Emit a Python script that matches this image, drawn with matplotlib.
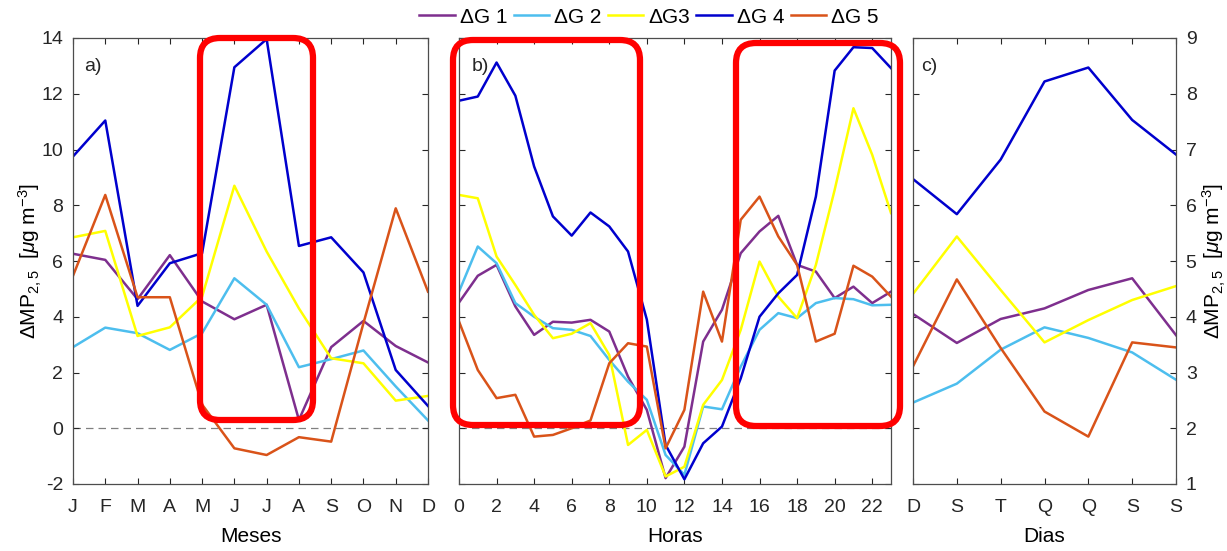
import matplotlib.pyplot as plt
from matplotlib.patches import FancyBboxPatch
from matplotlib.lines import Line2D

plt.rcParams['font.family'] = ['Liberation Sans', 'DejaVu Sans']
plt.rcParams['mathtext.fontset'] = 'custom'
plt.rcParams['mathtext.rm'] = 'Liberation Sans'
plt.rcParams['mathtext.it'] = 'Liberation Sans:italic'
plt.rcParams['axes.unicode_minus'] = False

# series names and colours
names = ["ΔG 1", "ΔG 2", "ΔG3", "ΔG 4", "ΔG 5"]
colors = ["#7E2F8E", "#4DBEEE", "#FFFF00", "#0000CD", "#D95319"]

# a) months
months = ["J", "F", "M", "A", "M", "J", "J", "A", "S", "O", "N", "D"]
mes_g1 = [6.26, 6.04, 4.63, 6.21, 4.55, 3.91, 4.43, 0.30, 2.91, 3.85, 2.95, 2.36]
mes_g2 = [2.91, 3.61, 3.41, 2.81, 3.41, 5.38, 4.43, 2.19, 2.48, 2.79, 1.50, 0.28]
mes_g3 = [6.85, 7.08, 3.31, 3.62, 4.72, 8.70, 6.34, 4.30, 2.51, 2.33, 0.99, 1.16]
mes_g4 = [9.75, 11.04, 4.39, 5.92, 6.28, 12.95, 13.96, 6.54, 6.85, 5.59, 2.09, 0.80]
mes_g5 = [5.47, 8.37, 4.70, 4.70, 0.85, -0.72, -0.96, -0.32, -0.48, 3.77, 7.89, 4.90]

# b) hours
horas = list(range(24))
hor_g1 = [4.51, 5.47, 5.86, 4.37, 3.35, 3.82, 3.79, 3.89, 3.47, 1.85, 0.66, -1.79,
          -0.66, 3.11, 4.25, 6.28, 7.06, 7.62, 5.86, 5.62, 4.67, 5.08, 4.49, 4.90]
hor_g2 = [4.90, 6.52, 5.92, 4.49, 4.00, 3.59, 3.53, 3.31, 2.45, 1.67, 1.02, -0.96,
          -1.67, 0.78, 0.68, 2.21, 3.53, 4.13, 3.95, 4.49, 4.67, 4.63, 4.41, 4.43]
hor_g3 = [8.37, 8.25, 6.16, 5.14, 4.07, 3.23, 3.39, 3.77, 2.63, -0.60, -0.06, -1.73,
          -1.38, 0.84, 1.73, 3.53, 5.98, 4.72, 3.95, 5.86, 8.55, 11.48, 9.81, 7.72]
hor_g4 = [11.75, 11.90, 13.12, 11.93, 9.39, 7.60, 6.91, 7.74, 7.24, 6.34, 3.90, -0.60,
          -1.83, -0.54, 0.06, 1.79, 4.00, 4.84, 5.50, 8.31, 12.83, 13.67, 13.64, 12.92]
hor_g5 = [3.83, 2.09, 1.08, 1.20, -0.30, -0.24, 0.00, 0.28, 2.33, 3.05, 2.93, -0.72,
          0.66, 4.90, 3.11, 7.48, 8.31, 6.88, 5.86, 3.11, 3.39, 5.83, 5.44, 4.72]

# c) week days
dias = ["D", "S", "T", "Q", "Q", "S", "S"]
dia_g1 = [4.05, 3.53, 3.96, 4.15, 4.48, 4.69, 3.67]
dia_g2 = [2.46, 2.80, 3.41, 3.81, 3.62, 3.36, 2.87]
dia_g3 = [4.41, 5.44, 4.48, 3.54, 3.94, 4.30, 4.55]
dia_g4 = [6.47, 5.84, 6.82, 8.22, 8.47, 7.53, 6.91]
dia_g5 = [3.11, 4.67, 3.44, 2.30, 1.85, 3.54, 3.45]

W, H = 1227, 551
fig = plt.figure(figsize=(W / 100, H / 100), dpi=100)

def px_axes(x0, x1, y0, y1):
    return fig.add_axes([x0 / W, 1 - y1 / H, (x1 - x0) / W, (y1 - y0) / H])

ax_a = px_axes(73, 428, 38, 484)
ax_b = px_axes(459, 891, 38, 484)
ax_c = px_axes(913, 1176, 38, 484)

edge = "#4d4d4d"
fs = 14
fl = 15
ylab = r"$\Delta$MP$_{2,5}$  [$\mu$g m$^{-3}$]"

x_mes = list(range(1, 13))
for ys, c in zip([mes_g1, mes_g2, mes_g3, mes_g4, mes_g5], colors):
    ax_a.plot(x_mes, ys, color=c, lw=1.8)
for ys, c in zip([hor_g1, hor_g2, hor_g3, hor_g4, hor_g5], colors):
    ax_b.plot(horas, ys, color=c, lw=1.8)
x_dia = list(range(1, 8))
for ys, c in zip([dia_g1, dia_g2, dia_g3, dia_g4, dia_g5], colors):
    ax_c.plot(x_dia, ys, color=c, lw=1.8)

for ax in (ax_a, ax_b):
    ax.axhline(0, color="#808080", lw=0.9, ls=(0, (6, 4)), zorder=0)
    ax.set_ylim(-2, 14)
    ax.set_yticks(range(-2, 15, 2))

ax_a.set_xlim(1, 12)
ax_a.set_xticks(x_mes)
ax_a.set_xticklabels(months)
ax_a.set_xlabel("Meses", fontsize=fl, labelpad=8)
ax_a.set_ylabel(ylab, fontsize=fl, labelpad=-2)

ax_b.set_xlim(0, 23)
ax_b.set_xticks(range(0, 23, 2))
ax_b.set_yticklabels([])
ax_b.set_xlabel("Horas", fontsize=fl, labelpad=8)

ax_c.set_xlim(1, 7)
ax_c.set_ylim(1, 9)
ax_c.set_xticks(x_dia)
ax_c.set_xticklabels(dias)
ax_c.set_yticks(range(1, 10))
ax_c.yaxis.tick_right()
ax_c.yaxis.set_label_position("right")
ax_c.set_ylabel(ylab, fontsize=fl, labelpad=3, rotation=90)
ax_c.set_xlabel("Dias", fontsize=fl, labelpad=8)

for ax, lab in zip((ax_a, ax_b, ax_c), ("a)", "b)", "c)")):
    ax.tick_params(direction="in", top=True, right=True, left=True,
                   labelsize=fs, colors="#262626", length=4, width=0.8, pad=7)
    ax.tick_params(axis="x", pad=11)
    if ax is ax_c:
        ax.tick_params(labelleft=False, labelright=True)
    for s in ax.spines.values():
        s.set_color(edge)
        s.set_linewidth(0.9)
    ax.text(0.03, 0.955, lab, transform=ax.transAxes, fontsize=fs,
            va="top", ha="left", color="#262626")

# legend
handles = [Line2D([0], [0], color=c, lw=1.8) for c in colors]
fig.legend(handles, names, loc="upper center", bbox_to_anchor=(0.529, 1.02),
           ncol=5, frameon=False, fontsize=fl, handlelength=1.7,
           handletextpad=0.25, columnspacing=0.3)

# red highlight boxes, overlay in pixel units
ov = fig.add_axes([0, 0, 1, 1], zorder=10)
ov.set_xlim(0, W)
ov.set_ylim(H, 0)
ov.axis("off")
ov.patch.set_alpha(0)
for x0, x1, y0, y1 in [(200, 313, 38, 420), (453, 640, 40, 425), (736, 900, 43, 426)]:
    ov.add_patch(FancyBboxPatch((x0, y0), x1 - x0, y1 - y0,
                                boxstyle="round,pad=0,rounding_size=20",
                                fill=False, ec="#FF0000", lw=4.5))

fig.savefig("out.png", dpi=100)
